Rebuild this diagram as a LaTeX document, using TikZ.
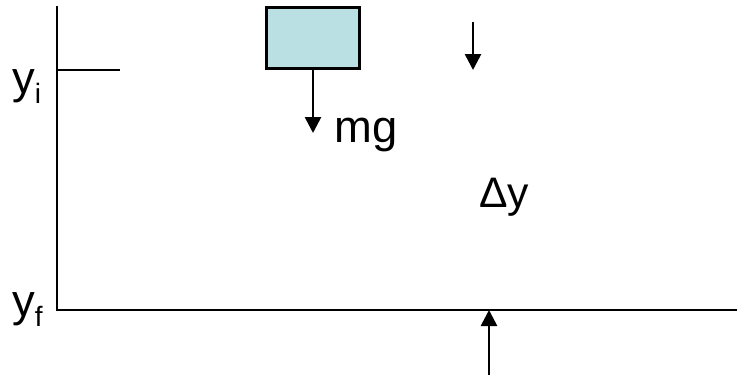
\documentclass[tikz,border=0pt]{standalone}
\usepackage{fontspec}
\setmainfont{Liberation Sans}
\usetikzlibrary{arrows.meta}
\definecolor{boxblue}{RGB}{187,224,227}
\begin{document}
\begin{tikzpicture}[x=0.75pt,y=-0.75pt,
  axis/.style={line width=2pt},
  force/.style={line width=2pt,-{Triangle[width=12pt,length=12pt]}},
  lbl/.style={inner sep=0pt,anchor=base west,font=\fontsize{34}{40}\selectfont},
  mass/.style={draw,line width=2pt,fill=boxblue,minimum width=70pt,minimum height=46pt,inner sep=0pt}]
\useasboundingbox (0,0) rectangle (737,375);
% axes
\coordinate (top) at (57,6);
\coordinate (origin) at (57,310);
\coordinate (right) at (737,310);
\coordinate (tickL) at (57,70);
\coordinate (tickR) at (120,70);
\draw[axis] (top) -- (origin) -- (right);
\draw[axis] (tickL) -- (tickR);
% mass and weight
\node[mass] (box) at (313,38) {};
\coordinate (mgtip) at (313,133);
\draw[force] (box.south) -- (mgtip);
\node[lbl] (mg) at (334,142) {mg};
% displacement arrows
\coordinate (d1s) at (473,22);
\coordinate (d1e) at (473,70);
\draw[force] (d1s) -- (d1e);
\coordinate (d2s) at (489,375);
\coordinate (d2e) at (489,310);
\draw[force] (d2s) -- (d2e);
\node[lbl,font=\fontsize{32}{38}\selectfont] (dy) at (479,207) {Δy};
% labels
\node[lbl] (yi) at (12,93) {y\raisebox{-7.5pt}{\fontsize{21}{22}\selectfont i}};
\node[lbl] (yf) at (12,316) {y\raisebox{-7.5pt}{\fontsize{21}{22}\selectfont f}};
\end{tikzpicture}
\end{document}
